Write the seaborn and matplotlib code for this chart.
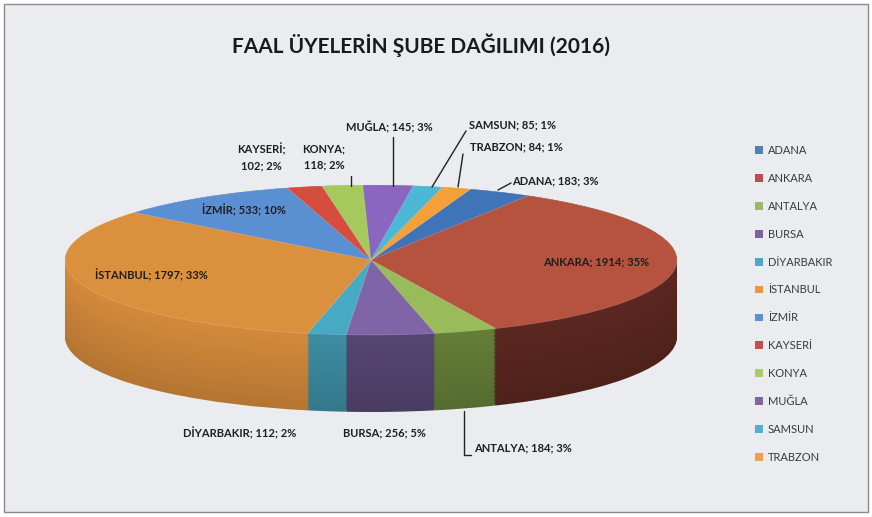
import numpy as np
import matplotlib
matplotlib.use("Agg")
import matplotlib.pyplot as plt
import seaborn as sns
from matplotlib.patches import Rectangle, Patch
from matplotlib.lines import Line2D

# ---------------- data ----------------
branches = ["ADANA", "ANKARA", "ANTALYA", "BURSA", "DİYARBAKIR", "İSTANBUL",
            "İZMİR", "KAYSERİ", "KONYA", "MUĞLA", "SAMSUN", "TRABZON"]
members = [183, 1914, 184, 256, 112, 1797, 533, 102, 118, 145, 85, 84]
percents = [3, 35, 3, 5, 2, 33, 10, 2, 2, 3, 1, 1]

# ---------------- style ----------------
top_colors = ["#3f74b8", "#b5533f", "#9abb59", "#8064a8", "#48a9c5", "#db903e",
              "#5a8fd2", "#d44d3f", "#a6c95d", "#8a66c0", "#4cb8d6", "#f3a03a"]
side_colors = ["#2f5a90", "#5c2720", "#647f38", "#564673", "#3d8ea3", "#d48a3b",
               "#4a78b0", "#a03a30", "#7f9c45", "#654a90", "#3a8ea8", "#c07a2a"]
legend_colors = ["#4f7fb5", "#b5504f", "#9cb86a", "#7a64a0", "#4aa8c0", "#e8964a",
                 "#5b8fd0", "#c0504d", "#a8cc70", "#8064a2", "#50b0c8", "#f0a050"]

sns.set_theme(style="white")
plt.rcParams["font.family"] = ["Lato", "DejaVu Sans"]

W, H = 872, 517
fig = plt.figure(figsize=(W / 100, H / 100), dpi=100)
fig.patch.set_facecolor("white")

def fx(px):
    return px / W

def fy(py):
    return 1 - py / H

# chart area background with border
fig.add_artist(Rectangle((fx(4), fy(512)), fx(864), 508 / H, transform=fig.transFigure,
                         facecolor="#eaecf0", edgecolor="#8a8a8a", lw=1.0, zorder=0))

# pie geometry (pixel based)
CX, CY, RA, RB, DEPTH = 371, 260, 306, 75, 77
ax = fig.add_axes([0, 0, 1, 1])
ax.set_facecolor("none")

start = 71  # matplotlib angle (deg ccw from +x); slices go clockwise

depth_units = DEPTH / RB
for i, k in enumerate(np.linspace(depth_units, 0, 60)):
    t = i / 59.0
    cols = [tuple(np.array(matplotlib.colors.to_rgb(c)) * (0.85 + 0.15 * t)) for c in side_colors]
    ax.pie(members, colors=cols, startangle=start, counterclock=False,
           center=(0, -k), radius=1, wedgeprops=dict(linewidth=0))
ax.pie(members, colors=top_colors, startangle=start, counterclock=False,
       center=(0, 0), radius=1, wedgeprops=dict(linewidth=0.4, edgecolor=(1, 1, 1, 0.25)))

ax.set_aspect("auto")
ax.set_xlim(-CX / RA, (W - CX) / RA)
ax.set_ylim((CY - H) / RB, CY / RB)
ax.axis("off")

# title
fig.text(fx(421), fy(45), "FAAL ÜYELERİN ŞUBE DAĞILIMI (2016)", ha="center", va="center",
         fontsize=15, fontweight="bold", color="#1a1a1a")

# data labels
label_text = [f"{b}; {m}; {p}%" for b, m, p in zip(branches, members, percents)]
label_text[7] = f"{branches[7]};\n{members[7]}; {percents[7]}%"
label_text[8] = f"{branches[8]};\n{members[8]}; {percents[8]}%"
label_pos = [(555, 181), (596, 262), (523, 448), (384, 433), (240, 433), (151, 275),
             (244, 210), (261, 157), (324, 157), (389, 127), (512, 125), (516, 147)]
for txt, (px, py) in zip(label_text, label_pos):
    fig.text(fx(px), fy(py), txt, ha="center", va="center", fontsize=8,
             fontweight="bold", color="#1e1e1e", linespacing=1.5)

# leader lines
leaders = [
    [(393, 137), (393, 186)],
    [(351, 176), (351, 186)],
    [(466, 131), (432, 187)],
    [(463, 154), (458, 187)],
    [(511, 183), (498, 190)],
    [(464, 411), (464, 455), (471, 455)],
]
for pts in leaders:
    xs = [fx(p[0]) for p in pts]
    ys = [fy(p[1]) for p in pts]
    fig.add_artist(Line2D(xs, ys, transform=fig.transFigure, color="#222222", lw=1.0))

# legend
handles = [Patch(facecolor=c, edgecolor="none") for c in legend_colors]
leg = fig.legend(handles, branches, loc="upper left", bbox_to_anchor=(fx(755), fy(145)),
                 frameon=False, fontsize=8, labelspacing=1.52, handlelength=0.7,
                 handleheight=0.7, handletextpad=0.45, borderaxespad=0, borderpad=0)
for t in leg.get_texts():
    t.set_color("#3a3a3a")

fig.savefig("out.png", dpi=100)
